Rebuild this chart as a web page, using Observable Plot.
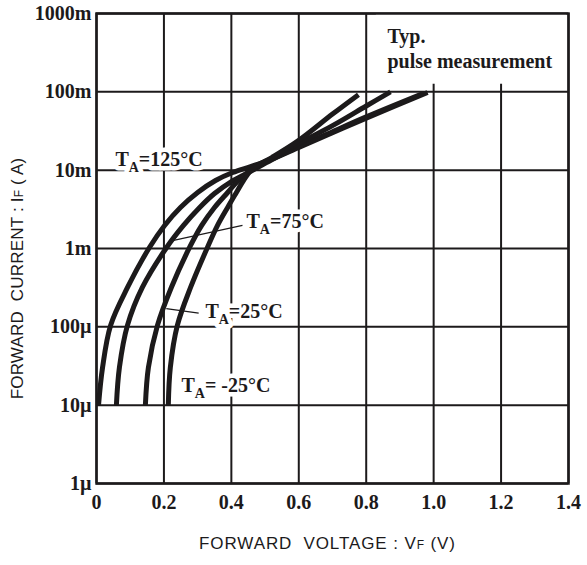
<!DOCTYPE html>
<html><head><meta charset="utf-8">
<script src="https://cdn.jsdelivr.net/npm/d3@7"></script>
<script src="https://cdn.jsdelivr.net/npm/@observablehq/plot@0.6"></script>
<style>body{margin:0;background:#fff}</style>
</head><body><div id="chart"></div>
<script>
// Series (temperature labels)
const series = ["125°C", "75°C", "25°C", "-25°C"];
// Forward voltage (V) and forward current (A)
const v125 = [0.006, 0.018, 0.042, 0.092, 0.157, 0.202, 0.249, 0.300, 0.353, 0.404, 0.457, 0.52, 0.60, 0.70, 0.80, 0.982];
const i125 = [1e-5, 3.03e-5, 1.05e-4, 3.18e-4, 1.03e-3, 1.97e-3, 3.34e-3, 5.19e-3, 7.38e-3, 9.33e-3, 1.11e-2, 1.38e-2, 1.95e-2, 3.0e-2, 4.6e-2, 9.8e-2];
const v75 = [0.059, 0.068, 0.092, 0.136, 0.208, 0.258, 0.306, 0.350, 0.400, 0.451, 0.52, 0.60, 0.70, 0.80, 0.97];
const i75 = [1e-5, 3.03e-5, 1.05e-4, 3.18e-4, 1.03e-3, 1.97e-3, 3.34e-3, 5.03e-3, 7.16e-3, 9.33e-3, 1.36e-2, 2.0e-2, 3.1e-2, 4.8e-2, 9.6e-2];
const v25 = [0.145, 0.154, 0.181, 0.222, 0.276, 0.312, 0.350, 0.389, 0.421, 0.457, 0.52, 0.60, 0.70, 0.80, 0.872];
const i25 = [1e-5, 3.03e-5, 1.05e-4, 3.18e-4, 1.03e-3, 1.97e-3, 3.34e-3, 5.19e-3, 7.38e-3, 9.9e-3, 1.42e-2, 2.2e-2, 3.7e-2, 6.6e-2, 0.1];
const vm25 = [0.213, 0.219, 0.240, 0.279, 0.329, 0.359, 0.389, 0.415, 0.436, 0.463, 0.52, 0.60, 0.70, 0.777];
const im25 = [1e-5, 3.03e-5, 1.05e-4, 3.18e-4, 1.03e-3, 1.97e-3, 3.34e-3, 5.19e-3, 7.38e-3, 1.05e-2, 1.45e-2, 2.4e-2, 5.2e-2, 9.2e-2];

// Ticks
const xTicks = [0, 0.2, 0.4, 0.6, 0.8, 1.0, 1.2, 1.4];
const xTickLabels = ["0", "0.2", "0.4", "0.6", "0.8", "1.0", "1.2", "1.4"];
const yTicks = [1e-6, 1e-5, 1e-4, 1e-3, 1e-2, 1e-1, 1];
const yTickLabels = ["1µ", "10µ", "100µ", "1m", "10m", "100m", "1000m"];

// Curve labels (T_A = subscript marker)
const labelText = ["T_A=125°C", "T_A=75°C", "T_A=25°C", "T_A= -25°C"];
const labelV = [0.056, 0.445, 0.323, 0.252];
const labelI = [0.0137, 2.2e-3, 1.56e-4, 1.8e-5];

// Leader lines
const leaderV1 = [0.222, 0.207];
const leaderI1 = [1.25e-3, 1.71e-4];
const leaderV2 = [0.433, 0.303];
const leaderI2 = [1.97e-3, 1.5e-4];

// Note box
const noteText = ["Typ.", "pulse measurement"];
const noteV = [0.863, 0.863];
const noteI = [0.50, 0.24];
const noteBoxV = [0.83, 1.395];
const noteBoxI = [0.125, 0.995];

const xTitle = "FORWARD  VOLTAGE : V^F (V)";
const yTitle = "FORWARD  CURRENT : I^F ( A)";

const vs = [v125, v75, v25, vm25], is = [i125, i75, i25, im25];
const rows = [];
series.forEach((s, k) => vs[k].forEach((v, j) => rows.push({t: s, v, i: is[k][j]})));
const labels = labelText.map((text, k) => ({text, v: labelV[k], i: labelI[k]}));
const leaders = leaderV1.map((v, k) => ({v1: v, i1: leaderI1[k], v2: leaderV2[k], i2: leaderI2[k]}));
const notes = noteText.map((text, k) => ({text, v: noteV[k], i: noteI[k]}));
const xMap = new Map(xTicks.map((d, k) => [d, xTickLabels[k]]));
const yMap = new Map(yTicks.map((d, k) => [d, yTickLabels[k]]));

const ink = "#1c1a1b";
const sans = "'Liberation Sans', Arial, sans-serif";
const chart = Plot.plot({
  width: 587, height: 565,
  marginLeft: 96, marginRight: 19, marginTop: 13, marginBottom: 82,
  style: {fontFamily: "'Liberation Serif', serif", fontWeight: "bold", fontSize: "20px", color: ink, background: "#fff"},
  x: {domain: [0, 1.4]},
  y: {type: "log", domain: [1e-6, 1]},
  marks: [
    Plot.ruleX(xTicks, {stroke: ink, strokeWidth: 2}),
    Plot.ruleY(yTicks, {stroke: ink, strokeWidth: 2}),
    Plot.rect([0], {x1: () => noteBoxV[0], x2: () => noteBoxV[1], y1: () => noteBoxI[0], y2: () => noteBoxI[1], fill: "white"}),
    Plot.text(labels, {x: "v", y: "i", text: "text", textAnchor: "start", fontSize: 20, stroke: "white", strokeWidth: 9, fill: ink}),
    Plot.text(notes, {x: "v", y: "i", text: "text", textAnchor: "start", fontSize: 20, fill: ink}),
    Plot.frame({stroke: ink, strokeWidth: 2.5}),
    Plot.line(rows, {x: "v", y: "i", z: "t", stroke: ink, strokeWidth: 5, curve: "catmull-rom", strokeLinecap: "butt"}),
    Plot.link(leaders, {x1: "v1", y1: "i1", x2: "v2", y2: "i2", stroke: ink, strokeWidth: 1.2}),
    Plot.axisX(xTicks, {tickFormat: d => xMap.get(d), tickSize: 0, tickPadding: 11, label: null, fontSize: 20}),
    Plot.axisY(yTicks, {tickFormat: d => yMap.get(d), tickSize: 0, tickPadding: 5, label: null, fontSize: 20}),
    Plot.text([xTitle], {frameAnchor: "bottom", textAnchor: "middle", dx: -5, dy: 65, fontFamily: sans, fontWeight: "normal", fontSize: 17, fill: ink}),
    Plot.text([yTitle], {frameAnchor: "left", textAnchor: "middle", dx: -79, dy: 30, rotate: -90, fontFamily: sans, fontWeight: "normal", fontSize: 17, fill: ink})
  ]
});

// subscripts / small letters
const NS = "http://www.w3.org/2000/svg";
chart.querySelectorAll("text").forEach(t => {
  const s = t.textContent;
  const m = s.match(/^(.*)([_^])(.)(.*)$/);
  if (!m) return;
  t.textContent = "";
  t.style.whiteSpace = "pre";
  if (m[2] === "^") t.style.letterSpacing = s.startsWith("FORWARD  V") ? "0.9px" : "0.2px";
  const a = document.createElementNS(NS, "tspan"); a.textContent = m[1]; t.appendChild(a);
  const b = document.createElementNS(NS, "tspan"); b.textContent = m[3];
  if (m[2] === "_") { b.setAttribute("dy", "6"); b.setAttribute("font-size", "14"); }
  else { b.setAttribute("font-size", "12"); }
  t.appendChild(b);
  const c = document.createElementNS(NS, "tspan"); c.textContent = m[4];
  if (m[2] === "_") c.setAttribute("dy", "-6");
  t.appendChild(c);
});
document.getElementById("chart").appendChild(chart);
</script>
</body></html>
